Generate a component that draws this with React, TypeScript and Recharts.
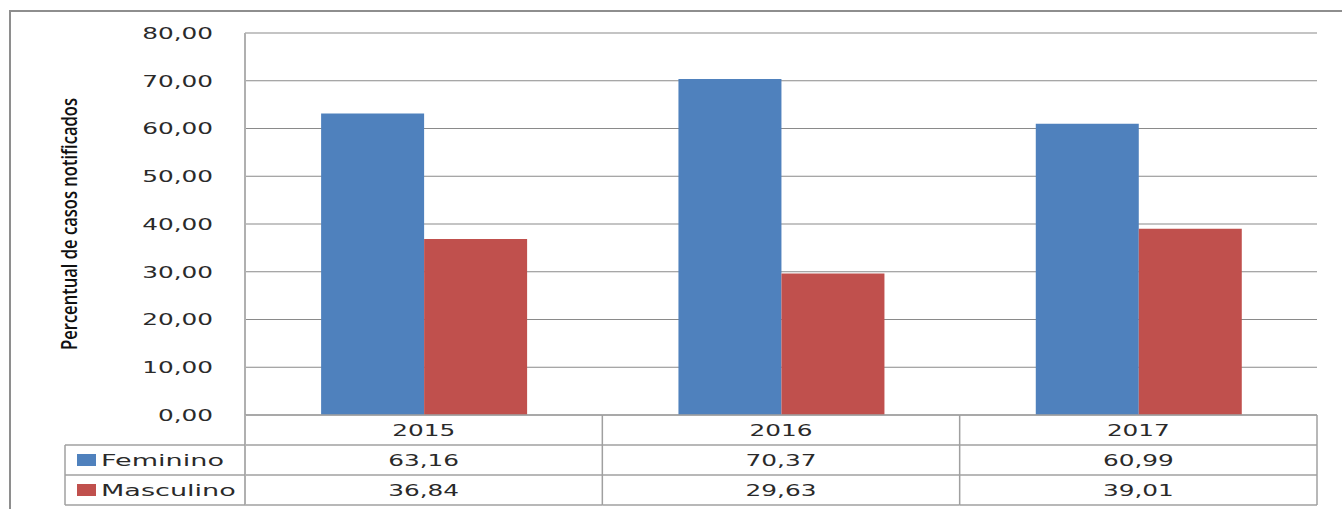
import React from 'react';
import { BarChart, Bar, XAxis, YAxis, CartesianGrid } from 'recharts';

const years = ['2015', '2016', '2017'];
const feminino = [63.16, 70.37, 60.99];
const masculino = [36.84, 29.63, 39.01];
const yTicks = [0, 10, 20, 30, 40, 50, 60, 70, 80];

const SERIES = [
  { key: 'feminino', name: 'Feminino', color: '#4F81BD', values: feminino },
  { key: 'masculino', name: 'Masculino', color: '#C0504D', values: masculino },
];

const data = years.map((year, i) => ({
  year,
  feminino: feminino[i],
  masculino: masculino[i],
}));

// layout
const W = 1342;
const H = 509;
const Y_AXIS_W = 245;
const X_AXIS_H = 94;
const MARGIN = { top: 33, right: 25, bottom: 0, left: 0 };
const PLOT_W = W - Y_AXIS_W - MARGIN.right;
const PLOT_BOTTOM = H - X_AXIS_H;
const COL_W = PLOT_W / years.length;
const ROW_H = 30;
const LEGEND_X = 65;
const STRETCH = 1.5;
const FONT = '"DejaVu Sans", Verdana, sans-serif';
const TEXT = '#2a2a2a';
const LINE = '#a0a0a0';
const GRID = '#8a8a8a';

const fmt = (v: number) => v.toFixed(2).replace('.', ',');

// text in the source is drawn horizontally stretched
const Wide = ({ x, y, anchor, stretch = STRETCH, children }: any) => (
  <g transform={`translate(${x},${y}) scale(${stretch},1)`}>
    <text textAnchor={anchor} dy="0.36em" fontSize={16.5} fontFamily={FONT} fill={TEXT}>
      {children}
    </text>
  </g>
);

const YTick = ({ x, y, payload }: any) => (
  <Wide x={x} y={y} anchor="end">
    {fmt(payload.value)}
  </Wide>
);

const YLabel = ({ viewBox }: any) => {
  const cy = viewBox ? viewBox.y + viewBox.height / 2 : 224;
  return (
    <g transform={`translate(70,${cy}) rotate(-90) scale(1,1.25)`}>
      <text
        textAnchor="middle"
        dy="0.35em"
        fontSize={17}
        fontWeight={600}
        fontFamily='"Liberation Sans Narrow", "Open Sans", "Liberation Sans", sans-serif'
        textLength={252}
        lengthAdjust="spacingAndGlyphs"
        fill="#111"
      >
        Percentual de casos notificados
      </text>
    </g>
  );
};

// data table under the axis, one column per category
const TableTick = ({ x, payload, index }: any) => {
  const left = x - COL_W / 2;
  const right = x + COL_W / 2;
  const top = PLOT_BOTTOM;
  const bottom = top + ROW_H * (SERIES.length + 1);
  const rowY = (r: number) => top + ROW_H * r;
  return (
    <g>
      {[0, 1, 2, 3].map((r) => (
        <line key={r} x1={left} x2={right} y1={rowY(r)} y2={rowY(r)} stroke={LINE} strokeWidth={1.5} />
      ))}
      <line x1={right} x2={right} y1={top} y2={bottom} stroke={LINE} strokeWidth={1.5} />
      <Wide x={x} y={rowY(0.5)} anchor="middle">
        {payload.value}
      </Wide>
      {SERIES.map((s, r) => (
        <Wide key={s.key} x={x} y={rowY(r + 1.5)} anchor="middle">
          {fmt(s.values[index])}
        </Wide>
      ))}
      {index === 0 && (
        <g>
          <line x1={left} x2={left} y1={top} y2={bottom} stroke="#b0b0b0" strokeWidth={2} />
          <line x1={LEGEND_X} x2={LEGEND_X} y1={rowY(1)} y2={bottom} stroke={LINE} strokeWidth={1.5} />
          {[1, 2, 3].map((r) => (
            <line key={r} x1={LEGEND_X} x2={left} y1={rowY(r)} y2={rowY(r)} stroke={LINE} strokeWidth={1.5} />
          ))}
          {SERIES.map((s, r) => (
            <g key={s.key}>
              <rect x={77} y={rowY(r + 1.5) - 6} width={19} height={12} fill={s.color} />
              <Wide x={101} y={rowY(r + 1.5)} anchor="start" stretch={1.64}>
                {s.name}
              </Wide>
            </g>
          ))}
        </g>
      )}
    </g>
  );
};

const GridLine = (props: any) => {
  const { x1, x2, y1, y2 } = props;
  const isTop = Math.abs(y1 - MARGIN.top) < 1;
  return (
    <line
      x1={x1}
      x2={x2}
      y1={y1}
      y2={y2}
      stroke={isTop ? '#c4c4c4' : GRID}
      strokeWidth={isTop ? 2 : 1.2}
    />
  );
};

export default function App() {
  return (
    <div
      style={{
        position: 'absolute',
        left: 0,
        top: 0,
        width: W,
        height: H,
        overflow: 'hidden',
        background: '#fff',
      }}
    >
      <div
        style={{
          position: 'absolute',
          left: 9,
          top: 10,
          width: W + 40,
          height: H + 40,
          border: '2px solid #8e8e8e',
        }}
      />
      <div style={{ position: 'absolute', left: 0, top: 0 }}>
        <BarChart width={W} height={H} data={data} margin={MARGIN} barCategoryGap="21.3%" barGap={0}>
          <CartesianGrid vertical={false} horizontal={GridLine} />
          <XAxis
            dataKey="year"
            height={X_AXIS_H}
            axisLine={false}
            tickLine={false}
            tickSize={0}
            tickMargin={0}
            interval={0}
            tick={TableTick}
          />
          <YAxis
            width={Y_AXIS_W}
            domain={[0, 80]}
            ticks={yTicks}
            interval={0}
            tickLine={false}
            tickSize={0}
            tickMargin={32}
            axisLine={{ stroke: '#b0b0b0', strokeWidth: 2 }}
            tick={YTick}
            label={<YLabel />}
          />
          {SERIES.map((s) => (
            <Bar key={s.key} dataKey={s.key} name={s.name} fill={s.color} isAnimationActive={false} />
          ))}
        </BarChart>
      </div>
    </div>
  );
}
